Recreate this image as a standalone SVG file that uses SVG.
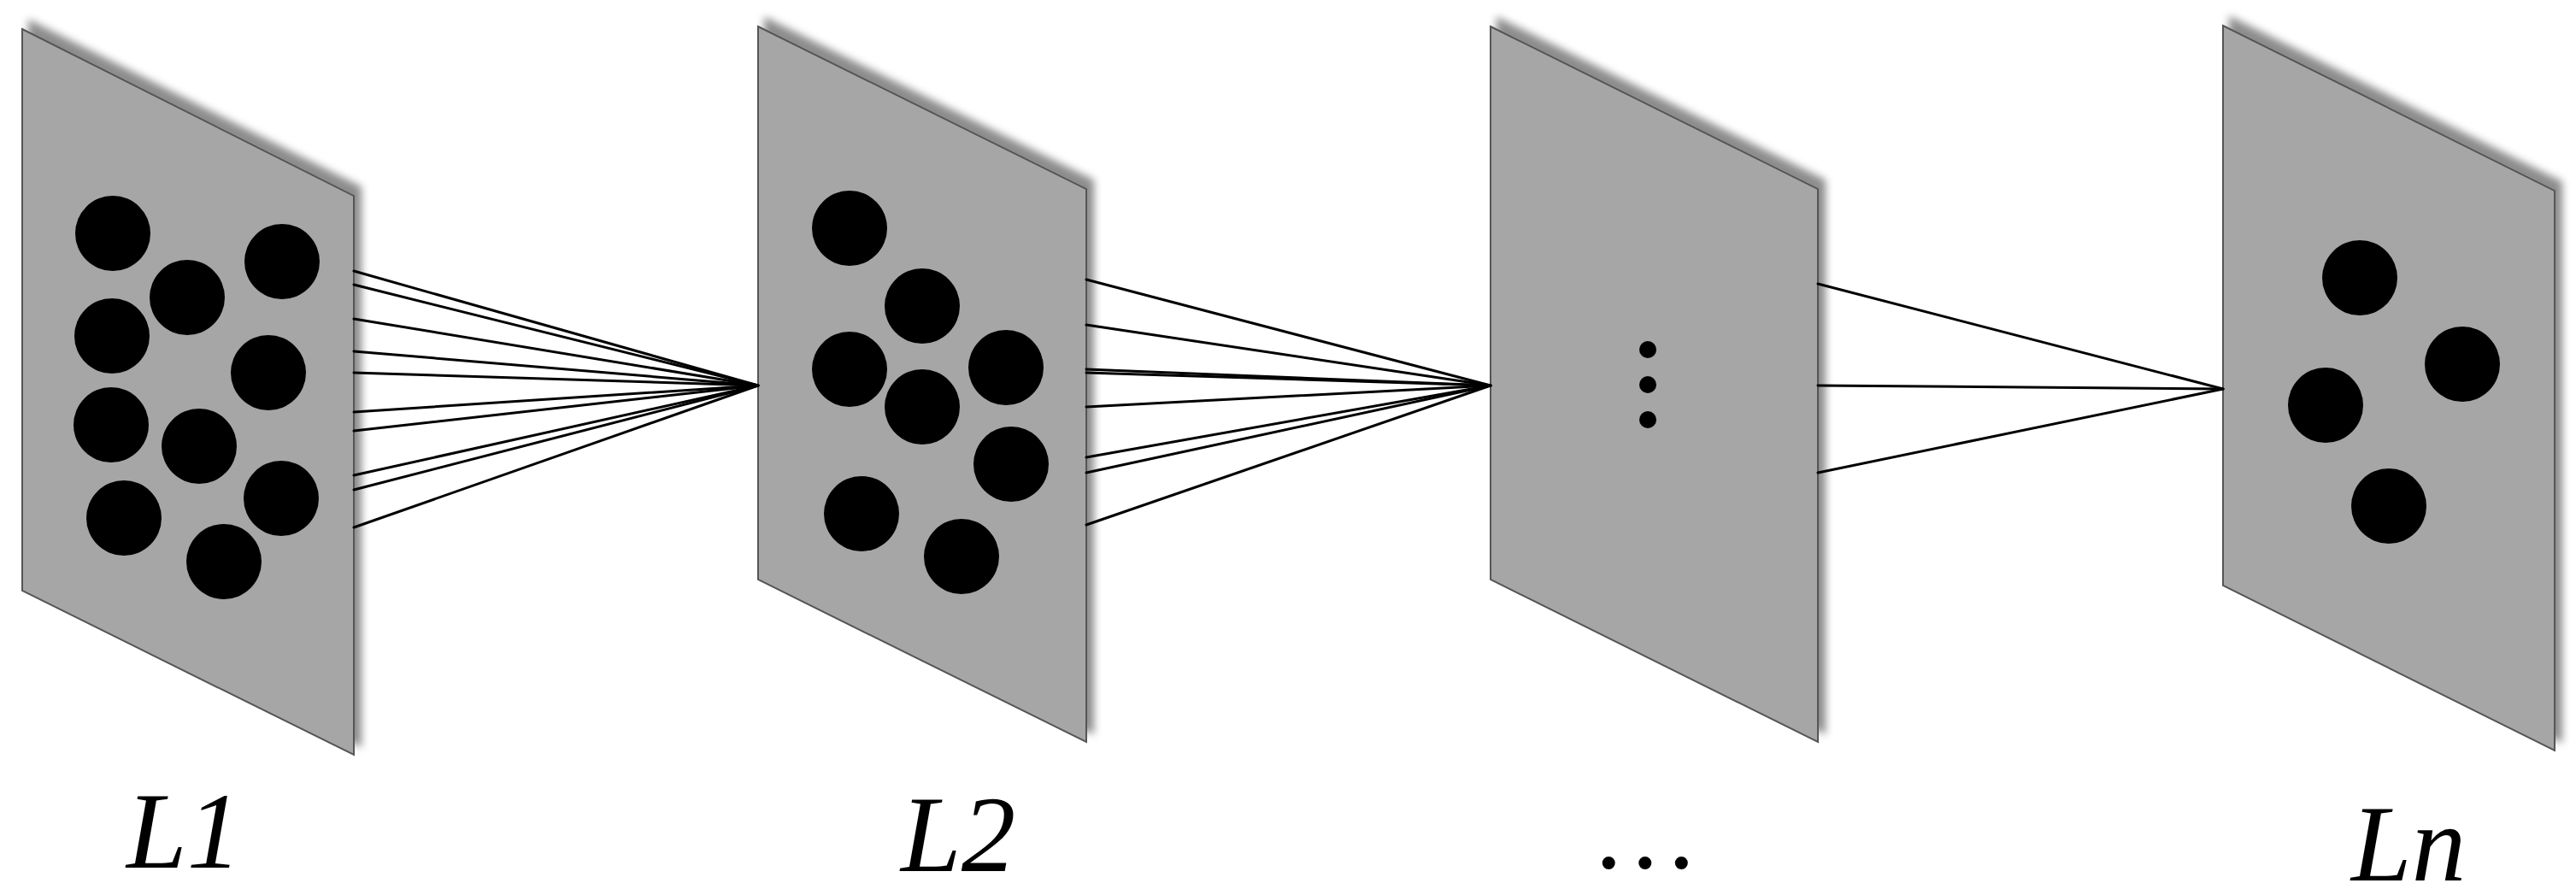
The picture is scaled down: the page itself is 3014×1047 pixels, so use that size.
<svg xmlns="http://www.w3.org/2000/svg" width="3014" height="1047" viewBox="0 0 3014 1047">
<style>
.panel{fill:#a6a6a6;stroke:#555;stroke-width:2;filter:url(#sh)}
.node circle{fill:#000}
.conn line{stroke:#000;stroke-width:3;stroke-linecap:round}
.lbl{font-family:"Liberation Serif","Times New Roman",serif;font-style:italic;font-size:127px;fill:#000}
</style>
<defs>
<filter id="sh" x="-20%" y="-20%" width="140%" height="140%">
<feDropShadow dx="8" dy="-10" stdDeviation="5" flood-color="#000" flood-opacity="0.45"/>
</filter>
</defs>
<rect width="3014" height="1047" fill="#fff"/>
<g id="L1" class="node">
<polygon class="panel" points="26,34 414,229 414,883 26,691"/>
<circle cx="132" cy="273" r="44"/>
<circle cx="219" cy="348" r="44"/>
<circle cx="330" cy="306" r="44"/>
<circle cx="131" cy="393" r="44"/>
<circle cx="314" cy="436" r="44"/>
<circle cx="130" cy="497" r="44"/>
<circle cx="233" cy="522" r="44"/>
<circle cx="145" cy="606" r="44"/>
<circle cx="329" cy="583" r="44"/>
<circle cx="262" cy="657" r="44"/>
<text class="lbl" x="148" y="1015">L1</text>
</g>
<g id="L2" class="node">
<polygon class="panel" points="887,31 1271,221 1271,868 887,678"/>
<circle cx="994" cy="267" r="44"/>
<circle cx="1079" cy="358" r="44"/>
<circle cx="994" cy="432" r="44"/>
<circle cx="1177" cy="430" r="44"/>
<circle cx="1079" cy="476" r="44"/>
<circle cx="1183" cy="543" r="44"/>
<circle cx="1008" cy="601" r="44"/>
<circle cx="1125" cy="651" r="44"/>
<text class="lbl" x="1054" y="1019">L2</text>
</g>
<g id="L3" class="node">
<polygon class="panel" points="1744,31 2127,221 2127,868 1744,678"/>
<circle cx="1928" cy="409" r="10"/>
<circle cx="1928" cy="450" r="10"/>
<circle cx="1928" cy="491" r="10"/>
<text class="lbl" x="1927" y="1015" text-anchor="middle">…</text>
</g>
<g id="Ln" class="node">
<polygon class="panel" points="2601,30 2989,223 2989,878 2601,685"/>
<circle cx="2761" cy="325" r="44"/>
<circle cx="2881" cy="426" r="44"/>
<circle cx="2721" cy="474" r="44"/>
<circle cx="2795" cy="592" r="44"/>
<text class="lbl" x="2751" y="1030">Ln</text>
</g>
<g id="connectors" class="conn">
<line x1="414" y1="317" x2="887" y2="451"/>
<line x1="414" y1="333" x2="887" y2="451"/>
<line x1="414" y1="373" x2="887" y2="451"/>
<line x1="414" y1="411" x2="887" y2="451"/>
<line x1="414" y1="436" x2="887" y2="451"/>
<line x1="414" y1="482" x2="887" y2="451"/>
<line x1="414" y1="504" x2="887" y2="451"/>
<line x1="414" y1="556" x2="887" y2="451"/>
<line x1="414" y1="573" x2="887" y2="451"/>
<line x1="414" y1="617" x2="887" y2="451"/>
<line x1="1271" y1="327" x2="1744" y2="451"/>
<line x1="1271" y1="380" x2="1744" y2="451"/>
<line x1="1271" y1="432" x2="1744" y2="451"/>
<line x1="1271" y1="436" x2="1744" y2="451"/>
<line x1="1271" y1="476" x2="1744" y2="451"/>
<line x1="1271" y1="535" x2="1744" y2="451"/>
<line x1="1271" y1="553" x2="1744" y2="451"/>
<line x1="1271" y1="614" x2="1744" y2="451"/>
<line x1="2127" y1="332" x2="2601" y2="455"/>
<line x1="2127" y1="451" x2="2601" y2="455"/>
<line x1="2127" y1="553" x2="2601" y2="455"/>
</g>
</svg>
